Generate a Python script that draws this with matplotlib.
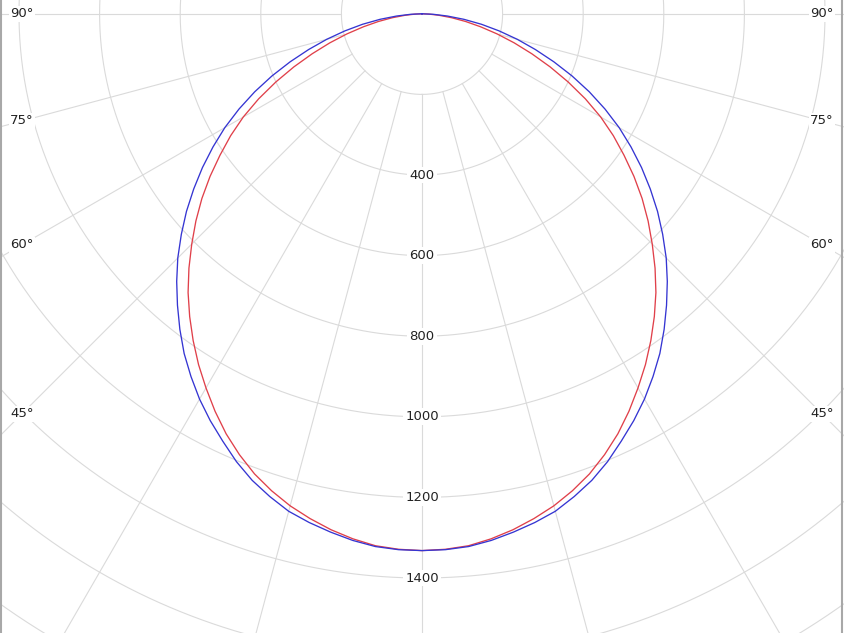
"""Polar luminous intensity diagram (two C-planes)."""

import numpy as np
import matplotlib
matplotlib.use("Agg")
import matplotlib.pyplot as plt

# ── Data (cd), angle from nadir, 2.5° steps ────────────────────────────
ANGLES = [0, 2.5, 5, 7.5, 10, 12.5, 15, 17.5, 20, 22.5, 25, 27.5, 30, 32.5,
          35, 37.5, 40, 42.5, 45, 47.5, 50, 52.5, 55, 57.5, 60, 62.5, 65,
          67.5, 70, 72.5, 75, 77.5, 80, 82.5, 85, 87.5, 90]
BLUE_CD = [1332, 1331, 1327, 1318, 1306, 1293, 1278, 1256, 1232, 1203,
           1170, 1138, 1104, 1067, 1029, 987, 944, 901, 857, 810,
           763, 714, 665, 615, 565, 512, 458, 403, 348, 295,
           245, 196, 150, 105, 63, 28, 0]
RED_CD = [1332, 1330, 1325, 1314, 1300, 1283, 1264, 1241, 1215, 1184,
          1150, 1112, 1072, 1032, 990, 947, 903, 856, 808, 761,
          713, 663, 612, 563, 512, 457, 400, 344, 290, 240,
          193, 149, 110, 74, 42, 17, 0]

RADIAL_TICKS = [400, 600, 800, 1000, 1200, 1400]
ANGLE_LABELS = [90, 75, 60, 45]

# ── Style ──────────────────────────────────────────────────────────────
GRID_COLOR = "#dadada"
BLUE = "#3535d2"
RED = "#e0404a"
EDGE_COLOR = "#a8a8a8"

W, H = 844, 633
CX, CY = 422, 13.8          # pole position, px from top-left
PX_PER_CD = 0.403
RMAX = 2000

fig = plt.figure(figsize=(W / 100, H / 100), dpi=100)
fig.patch.set_facecolor("white")

rpx = RMAX * PX_PER_CD
ax = fig.add_axes([(CX - rpx) / W, (H - CY - rpx) / H, 2 * rpx / W, 2 * rpx / H],
                  projection="polar")
ax.set_theta_zero_location("S")
ax.set_ylim(0, RMAX)
ax.axis("off")

# grid: circles every 200 cd, spokes every 15° starting at 200 cd
circ = np.linspace(0, 2 * np.pi, 721)
for r in range(200, RMAX + 1, 200):
    ax.plot(circ, np.full_like(circ, r), color=GRID_COLOR, lw=0.8, zorder=1)
for a in range(0, 360, 15):
    t = np.deg2rad(a)
    ax.plot([t, t], [200, RMAX], color=GRID_COLOR, lw=0.8, zorder=1)

# curves, mirrored to both sides
ang = np.array(ANGLES)
full_ang = np.deg2rad(np.concatenate([-ang[::-1], ang[1:]]))
blue = np.concatenate([BLUE_CD[::-1], BLUE_CD[1:]])
red = np.concatenate([RED_CD[::-1], RED_CD[1:]])
ax.plot(full_ang, red, color=RED, lw=0.95, zorder=3)
ax.plot(full_ang, blue, color=BLUE, lw=0.95, zorder=3)

# radial value labels along the nadir line
for r in RADIAL_TICKS:
    ax.text(0, r, f"{r}", ha="center", va="center", fontsize=9.5,
            color="#222222", zorder=4,
            bbox=dict(boxstyle="square,pad=0.15", fc="white", ec="none"))

# angle labels near the left and right edges
label_dx = 400 / PX_PER_CD
for a in ANGLE_LABELS:
    t = np.deg2rad(a)
    r = label_dx / np.sin(t)
    for sgn in (-1, 1):
        ax.text(sgn * t, r, f"{a}°", ha="center", va="center", fontsize=9.5,
                color="#222222", zorder=4,
                bbox=dict(boxstyle="square,pad=0.1", fc="white", ec="none"))

# thin frame lines at the image edges
fig.add_artist(plt.Line2D([1 / W, 1 / W], [0, 1], color=EDGE_COLOR, lw=1.5))
fig.add_artist(plt.Line2D([1 - 2 / W, 1 - 2 / W], [0, 1], color=EDGE_COLOR, lw=1.5))

fig.savefig("out.png", dpi=100, facecolor="white")
